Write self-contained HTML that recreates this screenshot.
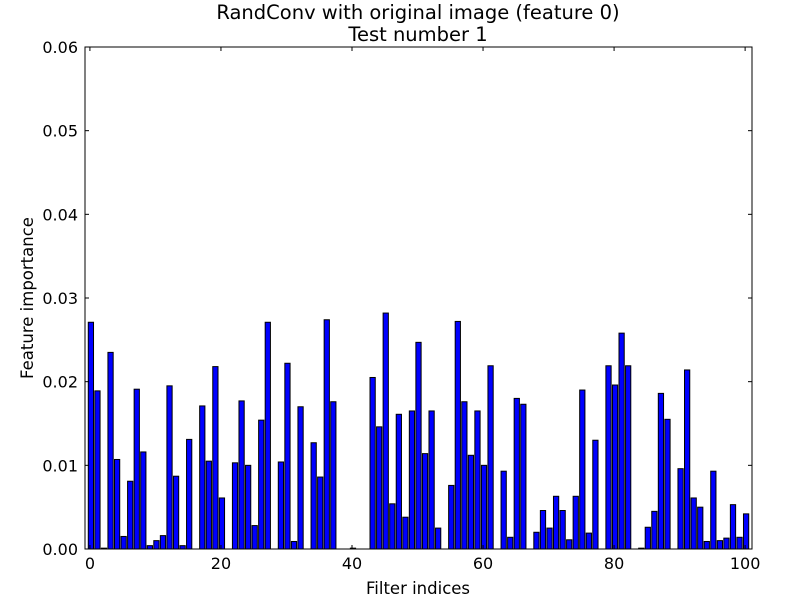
<!DOCTYPE html>
<html><head><meta charset="utf-8"><style>
body{margin:0;background:#fff;}
svg{display:block;font-family:"DejaVu Sans","Liberation Sans",sans-serif;}
</style></head><body>
<svg id="chart" width="800" height="597">
<rect x="0" y="0" width="800" height="597" fill="#fff"/>
<text x="418" y="19" text-anchor="middle" font-size="19.5">RandConv with original image (feature 0)</text>
<text x="418" y="41" text-anchor="middle" font-size="19.5">Test number 1</text>
<g id="bars"></g>
<g id="axes"></g>
<text x="418" y="594" text-anchor="middle" font-size="16.5">Filter indices</text>
<text x="33" y="298" text-anchor="middle" font-size="16.5" transform="rotate(-90 33 298)">Feature importance</text>
</svg>
<script>
const values = [.0271,.0189,.0001,.0235,.0107,.0015,.0081,.0191,.0116,.0004,
.001,.0016,.0195,.0087,.0004,.0131,0,.0171,.0105,.0218,
.0061,0,.0103,.0177,.01,.0028,.0154,.0271,0,.0104,
.0222,.0009,.017,0,.0127,.0086,.0274,.0176,0,0,
.0001,0,0,.0205,.0146,.0282,.0054,.0161,.0038,.0165,
.0247,.0114,.0165,.0025,0,.0076,.0272,.0176,.0112,.0165,
.01,.0219,0,.0093,.0014,.018,.0173,0,.002,.0046,
.0025,.0063,.0046,.0011,.0063,.019,.0019,.013,0,.0219,
.0196,.0258,.0219,0,.0001,.0026,.0045,.0186,.0155,0,
.0096,.0214,.0061,.005,.0009,.0093,.001,.0013,.0053,.0014,.0042];
const xTicks = [0,20,40,60,80,100];
const yTicks = [0,0.01,0.02,0.03,0.04,0.05,0.06];
const yTickLabels = ["0.00","0.01","0.02","0.03","0.04","0.05","0.06"];

const L=85,R=752,T=47,B=549, xmin=-0.75,xmax=101.05,ymax=0.06;
const sx=v=>L+(v-xmin)/(xmax-xmin)*(R-L);
const sy=v=>B-v/ymax*(B-T);
const NS="http://www.w3.org/2000/svg";
const bars=document.getElementById('bars');
values.forEach((v,i)=>{
  const r=document.createElementNS(NS,'rect');
  const x0=sx(i-0.25), x1=sx(i+0.55);
  r.setAttribute('x',x0);r.setAttribute('width',x1-x0);
  r.setAttribute('y',sy(v));r.setAttribute('height',Math.max(0,B-sy(v)));
  r.setAttribute('fill','#0000ff');r.setAttribute('stroke','#000');r.setAttribute('stroke-width','1');
  
  
  bars.appendChild(r);
});
const ax=document.getElementById('axes');
function add(tag,attrs,txt){const e=document.createElementNS(NS,tag);for(const k in attrs)e.setAttribute(k,attrs[k]);if(txt!==undefined)e.textContent=txt;ax.appendChild(e);return e;}
const frame=add('rect',{x:L,y:T,width:R-L,height:B-T,fill:'none',stroke:'#000','stroke-width':1});


xTicks.forEach(t=>{
  const x=sx(t);
  const a=add('line',{x1:x,x2:x,y1:B,y2:B-4,stroke:'#000'});
  
  
  const b=add('line',{x1:x,x2:x,y1:T,y2:T+4,stroke:'#000'});
  
  
  const lb=add('text',{x:x,y:B+20,'text-anchor':'middle','font-size':16},String(t));
  
  
});
yTicks.forEach((t,i)=>{
  const y=sy(t);
  const a=add('line',{x1:L,x2:L+4,y1:y,y2:y,stroke:'#000'});
  
  
  const b=add('line',{x1:R,x2:R-4,y1:y,y2:y,stroke:'#000'});
  
  
  const lb=add('text',{x:L-7,y:y+6,'text-anchor':'end','font-size':16},yTickLabels[i]);
  
  
});
</script>
</body></html>
